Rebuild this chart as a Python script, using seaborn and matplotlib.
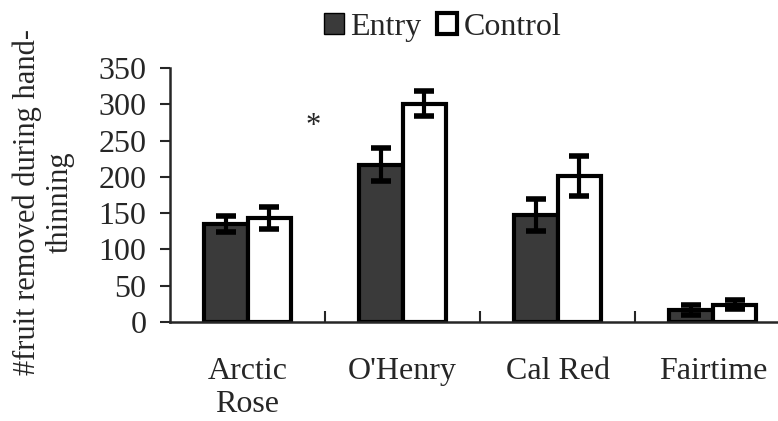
import numpy as np
import pandas as pd
import matplotlib
matplotlib.use("Agg")
import matplotlib.pyplot as plt
import seaborn as sns
from matplotlib.patches import Patch

varieties = ["Arctic Rose", "O'Henry", "Cal Red", "Fairtime"]
tick_labels = ["Arctic\nRose", "O'Henry", "Cal Red", "Fairtime"]
treatments = ["Entry", "Control"]
entry = [135, 217, 147, 17]
entry_err = [11, 23, 22, 7]
control = [143, 301, 201, 24]
control_err = [15, 17, 28, 6]

df = pd.DataFrame({
    "variety": varieties * 2,
    "treatment": ["Entry"] * 4 + ["Control"] * 4,
    "fruit": entry + control,
})

sns.set_style("ticks")
plt.rcParams["font.family"] = ["Liberation Serif", "DejaVu Serif"]

fig = plt.figure(figsize=(7.78, 4.21), dpi=100)
ax = fig.add_axes([0.2185, 0.2352, 0.7815, 0.6033])
colors = {"Entry": "#3a3a3a", "Control": "white"}
sns.barplot(data=df, x="variety", y="fruit", hue="treatment", order=varieties,
            hue_order=treatments, palette=colors, width=0.56, errorbar=None,
            edgecolor="black", linewidth=3, legend=False, ax=ax)

# error bars on top of each bar
for cont, vals, err in zip(ax.containers, [entry, control], [entry_err, control_err]):
    xs = [p.get_x() + p.get_width() / 2 for p in cont]
    ax.errorbar(xs, vals, yerr=err, fmt="none", ecolor="black",
                elinewidth=3, capsize=7, capthick=4, zorder=5)

ax.set_ylim(0, 350)
ax.set_yticks(range(0, 351, 50))
ax.set_xlim(-0.5, 3.42)
ax.set_xticks(range(4))
ax.set_xticklabels(tick_labels)
ax.set_xticks([0.5, 1.5, 2.5], minor=True)
ax.tick_params(axis="x", which="major", length=0, pad=25, labelsize=23)
ax.tick_params(axis="x", which="minor", direction="in", length=8, width=1.5)
ax.tick_params(axis="y", length=7, width=1.5, pad=10, labelsize=23)
ax.set_xlabel("")
ax.set_ylabel("")
for s in ["top", "right"]:
    ax.spines[s].set_visible(False)
for s in ["left", "bottom"]:
    ax.spines[s].set_linewidth(1.8)

ax.text(0.42, 270, "*", fontsize=22, ha="center", va="center")

fig.text(0.056, 0.52, "#fruit removed during hand-\nthinning", rotation=90,
         ha="center", va="center", multialignment="center", fontsize=22)

handles = [Patch(facecolor=colors["Entry"], edgecolor="black", linewidth=1),
           Patch(facecolor="white", edgecolor="black", linewidth=3)]
fig.legend(handles, treatments, loc="center", bbox_to_anchor=(0.569, 0.935), ncol=2,
           frameon=False, fontsize=23, handlelength=0.62, handleheight=0.62,
           handletextpad=0.2, columnspacing=0.5)

fig.savefig("out.png", dpi=100)
